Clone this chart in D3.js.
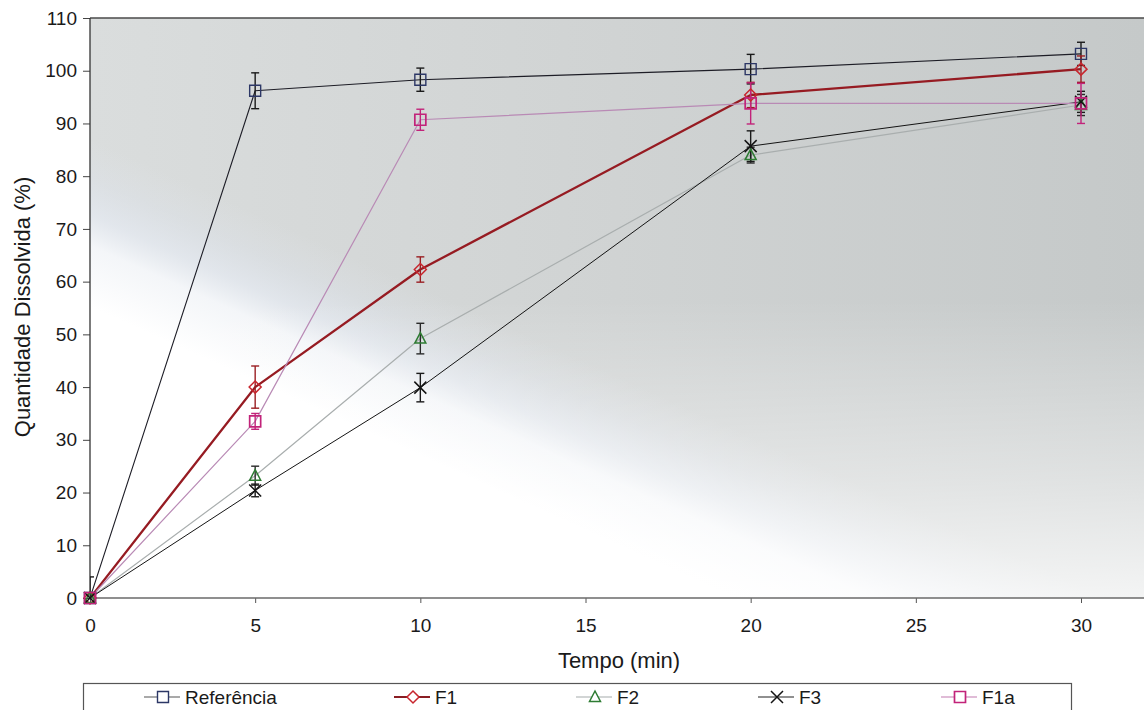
<!DOCTYPE html>
<html>
<head>
<meta charset="utf-8">
<script src="https://cdn.jsdelivr.net/npm/d3@7/dist/d3.min.js"></script>
<style>
  body { margin: 0; background: #fff; }
  svg { display: block; font-family: Arial, "Liberation Sans", sans-serif; }
</style>
</head>
<body>
<svg id="chart" width="1144" height="710"></svg>
<script>
// Dissolution profile: amount dissolved (%) vs time (min)
const times = [0, 5, 10, 20, 30];
const seriesNames = ["Referência", "F1", "F2", "F3", "F1a"];

const referencia    = [0, 96.2, 98.3, 100.3, 103.2];
const referenciaErr = [4.0, 3.4, 2.2, 2.8, 2.2];
const f1    = [0, 40.0, 62.3, 95.4, 100.3];
const f1Err = [0, 4.0, 2.4, 2.4, 2.5];
const f2    = [0, 23.2, 49.2, 84.0, 93.5];
const f2Err = [0, 1.8, 2.9, 1.5, 2.0];
const f3    = [0, 20.4, 39.9, 85.7, 94.1];
const f3Err = [0, 1.2, 2.7, 2.9, 2.0];
const f1a    = [0, 33.5, 90.7, 93.8, 93.8];
const f1aErr = [0, 1.5, 2.0, 3.9, 3.8];

const xTickValues = [0, 5, 10, 15, 20, 25, 30];
const yTickValues = [0, 10, 20, 30, 40, 50, 60, 70, 80, 90, 100, 110];

const xTitle = "Tempo (min)";
const yTitle = "Quantidade Dissolvida (%)";

// ---- layout ----
const svg = d3.select("#chart");
const plot = { left: 90, top: 18, right: 1144, bottom: 598 };

const x = d3.scaleLinear().domain([0, 30]).range([90, 1081]);
const y = d3.scaleLinear().domain([0, 110]).range([plot.bottom, plot.top]);

const styles = [
  { values: referencia, err: referenciaErr, line: "#1d1d26", lw: 1.1, marker: "square",   mc: "#2c3766", mw: 1.4, ec: "#1a1a1a", legendLine: "#555" },
  { values: f1,         err: f1Err,         line: "#961b22", lw: 2.3, marker: "diamond",  mc: "#c8262e", mw: 1.5, ec: "#9a1e22", legendLine: "#8a1e24" },
  { values: f2,         err: f2Err,         line: "#a9aeae", lw: 1.2, marker: "triangle", mc: "#2e7c33", mw: 1.5, ec: "#2a2a2a", legendLine: "#a6abab" },
  { values: f3,         err: f3Err,         line: "#141414", lw: 1.0, marker: "x",        mc: "#141414", mw: 1.5, ec: "#1a1a1a", legendLine: "#222" },
  { values: f1a,        err: f1aErr,        line: "#b98ab5", lw: 1.2, marker: "square",   mc: "#c2237a", mw: 1.7, ec: "#c2237a", legendLine: "#c27ab0" }
];

// ---- background ----
const defs = svg.append("defs");

const base = defs.append("linearGradient").attr("id", "bgBase")
  .attr("gradientUnits", "userSpaceOnUse")
  .attr("x1", plot.left).attr("y1", 0).attr("x2", plot.right).attr("y2", 0);
base.append("stop").attr("offset", 0).attr("stop-color", "#dadddd");
base.append("stop").attr("offset", 0.5).attr("stop-color", "#d0d3d3");
base.append("stop").attr("offset", 1).attr("stop-color", "#c5c9c9");

// diagonal light wash over the lower-left part
const nx = 0.41, ny = -0.91, L = 700;
const wash = defs.append("linearGradient").attr("id", "bgWash")
  .attr("gradientUnits", "userSpaceOnUse")
  .attr("x1", plot.left).attr("y1", plot.bottom)
  .attr("x2", plot.left + nx * L).attr("y2", plot.bottom + ny * L);
[[0, "#ffffff", 1], [0.38, "#ffffff", 1], [0.46, "#f6f8fb", 0.92],
 [0.5, "#e6ebf3", 0.7], [0.55, "#e0e6f0", 0.3], [0.6, "#e3e7ee", 0]]
  .forEach(([o, c, op]) => wash.append("stop").attr("offset", o).attr("stop-color", c).attr("stop-opacity", op));

const bottomFade = defs.append("linearGradient").attr("id", "bgBottom")
  .attr("gradientUnits", "userSpaceOnUse")
  .attr("x1", 0).attr("y1", 300).attr("x2", 0).attr("y2", plot.bottom);
bottomFade.append("stop").attr("offset", 0).attr("stop-color", "#ffffff").attr("stop-opacity", 0);
bottomFade.append("stop").attr("offset", 0.6).attr("stop-color", "#ffffff").attr("stop-opacity", 0.45);
bottomFade.append("stop").attr("offset", 1).attr("stop-color", "#ffffff").attr("stop-opacity", 0.8);

defs.append("clipPath").attr("id", "plotClip").append("rect")
  .attr("x", plot.left).attr("y", plot.top)
  .attr("width", plot.right - plot.left).attr("height", plot.bottom - plot.top);

const pw = plot.right - plot.left, ph = plot.bottom - plot.top;
["bgBase", "bgWash", "bgBottom"].forEach(id =>
  svg.append("rect").attr("x", plot.left).attr("y", plot.top)
    .attr("width", pw).attr("height", ph).attr("fill", `url(#${id})`));

// ---- axes ----
const yAxis = svg.append("g").attr("transform", `translate(${plot.left},0)`)
  .call(d3.axisLeft(y).tickValues(yTickValues).tickSize(7).tickPadding(6));
yAxis.select(".domain").remove();
yAxis.selectAll("line").attr("stroke", "#444");
yAxis.selectAll("text").attr("font-size", 19).attr("fill", "#1a1a1a")
  .attr("font-family", "Arial, 'Liberation Sans', sans-serif");

const xAxis = svg.append("g").attr("transform", `translate(0,${plot.bottom})`)
  .call(d3.axisBottom(x).tickValues(xTickValues).tickSize(5).tickPadding(16));
xAxis.select(".domain").remove();
xAxis.selectAll("line").attr("stroke", "#555");
xAxis.selectAll("text").attr("font-size", 19).attr("fill", "#1a1a1a")
  .attr("font-family", "Arial, 'Liberation Sans', sans-serif");

svg.append("line").attr("x1", plot.left).attr("x2", plot.right)
  .attr("y1", plot.bottom).attr("y2", plot.bottom).attr("stroke", "#6a6a6a").attr("stroke-width", 1.3);
svg.append("line").attr("x1", plot.left).attr("x2", plot.right)
  .attr("y1", plot.top).attr("y2", plot.top).attr("stroke", "#4a4a4a").attr("stroke-width", 1.6);
svg.append("line").attr("x1", plot.left).attr("x2", plot.left)
  .attr("y1", plot.top).attr("y2", plot.bottom).attr("stroke", "#333").attr("stroke-width", 1.3);

svg.append("text").attr("x", 619).attr("y", 668).attr("text-anchor", "middle")
  .attr("font-size", 22).attr("fill", "#1a1a1a").text(xTitle);
svg.append("text").attr("transform", "translate(30,307) rotate(-90)")
  .attr("text-anchor", "middle").attr("font-size", 22).attr("fill", "#1a1a1a").text(yTitle);

// ---- marker shapes ----
function markerPath(kind) {
  switch (kind) {
    case "square":   return "M-5.5,-5.5H5.5V5.5H-5.5Z";
    case "diamond":  return "M0,-6L6,0L0,6L-6,0Z";
    case "triangle": return "M0,-6L5.5,4.5H-5.5Z";
    case "x":        return "M-6,-6L6,6M-6,6L6,-6";
  }
}

// ---- series ----
const lineGen = d3.line().x((d, i) => x(times[i])).y(d => y(d));
const clipped = svg.append("g").attr("clip-path", "url(#plotClip)");

styles.forEach(s => {
  clipped.append("path").datum(s.values)
    .attr("fill", "none").attr("stroke", s.line).attr("stroke-width", s.lw)
    .attr("stroke-linejoin", "round").attr("d", lineGen);
});

styles.forEach(s => {
  const g = clipped.append("g").attr("stroke", s.ec).attr("stroke-width", 1.4);
  s.values.forEach((v, i) => {
    const e = s.err[i];
    if (!e) return;
    const cx = x(times[i]);
    g.append("line").attr("x1", cx).attr("x2", cx).attr("y1", y(v - e)).attr("y2", y(v + e));
    [v - e, v + e].forEach(t =>
      g.append("line").attr("x1", cx - 4).attr("x2", cx + 4).attr("y1", y(t)).attr("y2", y(t)));
  });
});

styles.forEach(s => {
  svg.append("g").selectAll("path").data(s.values).join("path")
    .attr("transform", (d, i) => `translate(${x(times[i])},${y(d)})`)
    .attr("d", markerPath(s.marker))
    .attr("fill", "none").attr("stroke", s.mc).attr("stroke-width", s.mw);
});

// ---- legend ----
const legend = svg.append("g");
legend.append("rect").attr("x", 83.5).attr("y", 683.5).attr("width", 988).attr("height", 40)
  .attr("fill", "#fff").attr("stroke", "#555").attr("stroke-width", 1.2);
const legendX = [163, 413, 595, 777, 960];
styles.forEach((s, i) => {
  const cx = legendX[i], cy = 697;
  legend.append("line").attr("x1", cx - 19).attr("x2", cx + 17).attr("y1", cy).attr("y2", cy)
    .attr("stroke", s.legendLine).attr("stroke-width", s === styles[1] ? 1.8 : 1.2);
  legend.append("path").attr("transform", `translate(${cx},${cy})`)
    .attr("d", markerPath(s.marker)).attr("fill", "#fff")
    .attr("stroke", s.mc).attr("stroke-width", s.mw);
  legend.append("text").attr("x", cx + 22).attr("y", 704).attr("font-size", 19)
    .attr("fill", "#1a1a1a").text(seriesNames[i]);
});
</script>
</body>
</html>
